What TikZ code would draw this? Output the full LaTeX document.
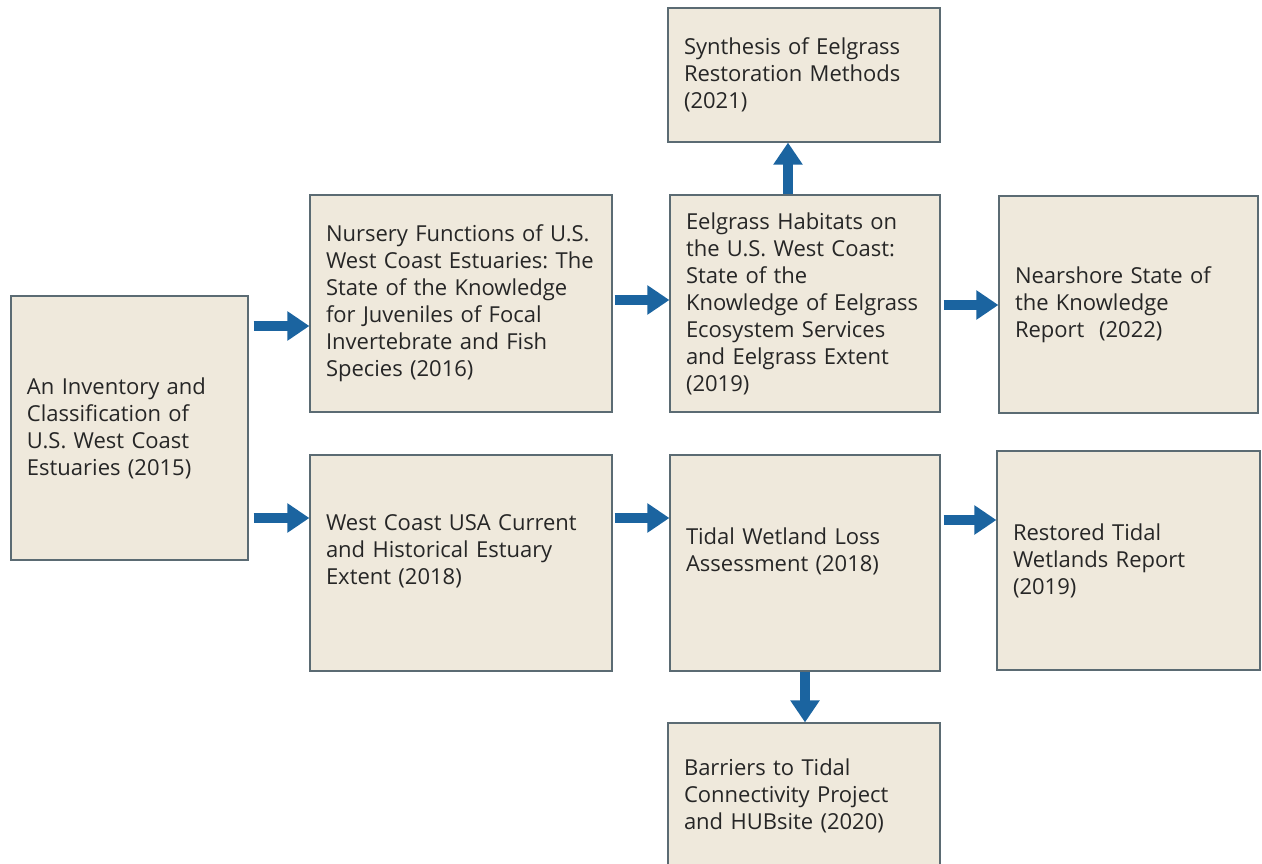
\documentclass[tikz,border=0pt]{standalone}
\usepackage{fontspec}
\setmainfont{Open Sans}
\usepackage{tikz}
\usepackage{xcolor}
\usetikzlibrary{arrows.meta}
\frenchspacing
\definecolor{boxfill}{HTML}{EFE9DC}
\definecolor{boxline}{HTML}{5B6B73}
\definecolor{flowblue}{HTML}{1B64A0}
\definecolor{inktext}{HTML}{262626}
\tikzset{
    report/.style={draw=boxline, fill=boxfill, line width=1.2pt, rectangle,
        inner xsep=16pt, inner ysep=0pt, align=left, text=inktext,
        font=\fontsize{22}{27}\selectfont},
    flow/.style={draw=flowblue, line width=10pt,
        -{Triangle[width=28pt,length=22pt]}}
}

\begin{document}
\begin{tikzpicture}[x=1pt,y=-1pt]
\useasboundingbox (0,0) rectangle (1262,863);
\clip (0,0) rectangle (1262,863);
\node[report, text width=205pt, minimum height=264pt] (inv) at (129.5,428)
    {An Inventory and\\Classification of\\U.S. West Coast\\Estuaries (2015)};
\node[report, text width=270pt, minimum height=217pt] (nursery) at (461,303.5)
    {Nursery Functions of U.S.\\West Coast Estuaries: The\\State of the Knowledge\\for Juveniles of Focal\\Invertebrate and Fish\\Species (2016)};
\node[report, text width=238pt, minimum height=217pt] (habitats) at (805,303.5)
    {Eelgrass Habitats on\\the U.S. West Coast:\\State of the\\Knowledge of Eelgrass\\Ecosystem Services\\and Eelgrass Extent\\(2019)};
\node[report, text width=240pt, minimum height=134pt] (synthesis) at (804,75)
    {Synthesis of Eelgrass\\Restoration Methods\\(2021)};
\node[report, text width=227pt, minimum height=217pt] (nearshore) at (1128.5,304.5)
    {Nearshore State of\\the Knowledge\\Report\ \ (2022)};
\node[report, text width=270pt, minimum height=216pt] (extent) at (461,563)
    {West Coast USA Current\\and Historical Estuary\\Extent (2018)\\\mbox{}};
\node[report, text width=238pt, minimum height=216pt] (loss) at (805,563)
    {Tidal Wetland Loss\\Assessment (2018)\\\mbox{}};
\node[report, text width=231pt, minimum height=219pt] (restored) at (1128.5,560.5)
    {Restored Tidal\\Wetlands Report\\(2019)};
\node[report, text width=240pt, minimum height=146pt] (barriers) at (804,796)
    {Barriers to Tidal\\Connectivity Project\\and HUBsite (2020)};

% arrows between reports
\draw[flow] ([xshift=5pt,yshift=102pt]inv.east) -- ([yshift=-22.5pt]nursery.west);
\draw[flow] ([xshift=5pt,yshift=-90pt]inv.east) -- ([yshift=45pt]extent.west);
\draw[flow] ([xshift=2pt,yshift=3.5pt]nursery.east) -- ([yshift=3.5pt]habitats.west);
\draw[flow] ([xshift=3pt,yshift=-1.5pt]habitats.east) -- ([yshift=-0.5pt]nearshore.west);
\draw[flow] ([xshift=2pt,yshift=45pt]extent.east) -- ([yshift=45pt]loss.west);
\draw[flow] ([xshift=3pt,yshift=43pt]loss.east) -- ([yshift=40.5pt]restored.west);
\draw[flow] ([xshift=-17pt]habitats.north) -- ([xshift=-16pt]synthesis.south);
\draw[flow] (loss.south) -- ([xshift=1pt]barriers.north);
\end{tikzpicture}
\end{document}
